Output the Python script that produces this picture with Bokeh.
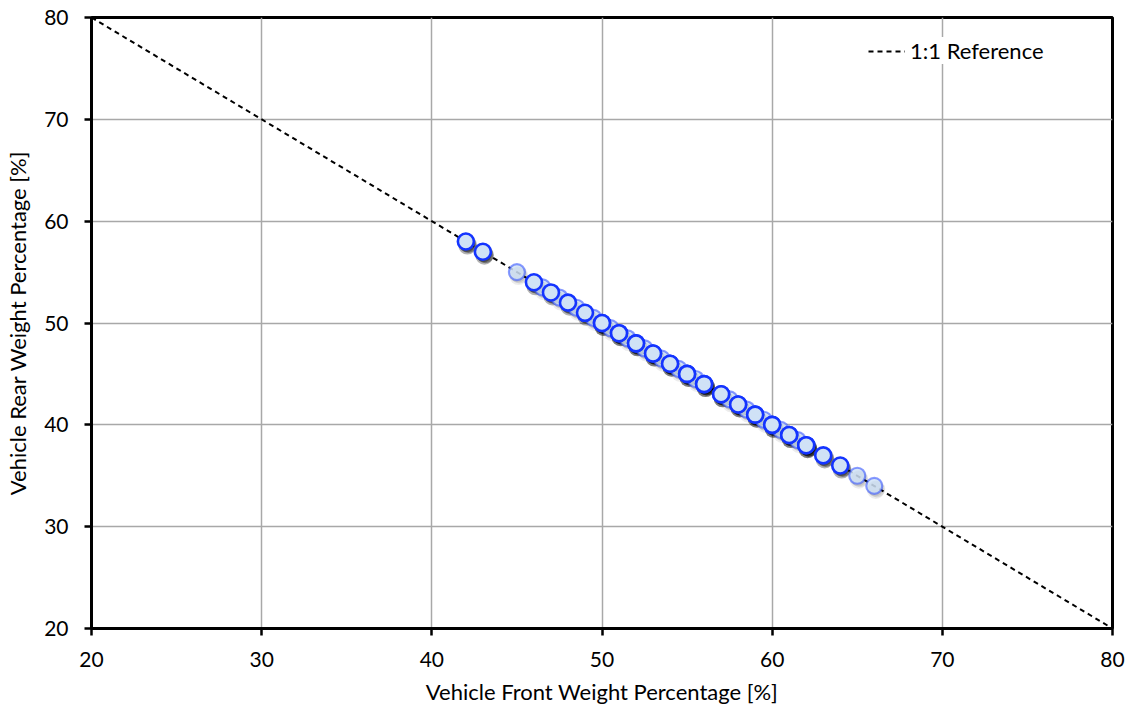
from bokeh.plotting import figure
from bokeh.models import Range1d, Legend, LegendItem
from bokeh.embed import file_html
from bokeh.resources import INLINE

# Data
front_solid = [42, 43, 46, 47, 48, 49, 50, 50, 51, 51, 52, 52, 53, 53, 54, 54, 55, 55, 56, 56,
               57, 57, 58, 58, 59, 59, 60, 60, 61, 61, 62, 62, 63, 64]
front_faint = [45, 46.5, 47.5, 48.5, 49.5, 50.5, 51.5, 52.5, 53.5, 54.5, 55.5, 57.5, 58.5,
               59.5, 60.5, 61.5, 65, 66]
ref_x = [20, 80]
ref_y = [80, 20]
x_ticks = [20, 30, 40, 50, 60, 70, 80]
y_ticks = [20, 30, 40, 50, 60, 70, 80]

rear_solid = [100 - f for f in front_solid]
rear_faint = [100 - f for f in front_faint]

FONT = "Lato"
FW, FH = 1021, 611

p = figure(width=1128, height=713, output_backend="svg", toolbar_location=None,
           x_range=Range1d(20, 80), y_range=Range1d(20, 80),
           frame_width=FW, frame_height=FH,
           min_border_left=91, min_border_top=17, min_border_right=16, min_border_bottom=85)
p.background_fill_color = "white"
p.border_fill_color = "white"
p.outline_line_color = "black"
p.outline_line_width = 3

for ax in (p.xaxis[0], p.yaxis[0]):
    ax.axis_line_width = 3
    ax.axis_line_color = "black"
    ax.major_tick_line_width = 2.5
    ax.major_tick_out = 7
    ax.major_tick_in = 0
    ax.minor_tick_line_color = None
    ax.major_label_text_font = FONT
    ax.major_label_text_font_size = "21px"
    ax.major_label_text_color = "black"
    ax.axis_label_text_font = FONT
    ax.axis_label_text_font_size = "22px"
    ax.axis_label_text_font_style = "normal"
    ax.axis_label_text_color = "black"

p.xaxis.ticker = x_ticks
p.yaxis.ticker = y_ticks
p.xaxis.major_label_standoff = 16
p.yaxis.major_label_standoff = 16
p.xaxis.axis_label = "Vehicle Front Weight Percentage [%]"
p.yaxis.axis_label = "Vehicle Rear Weight Percentage [%]"
p.xaxis.axis_label_standoff = 8
p.yaxis.axis_label_standoff = 10

p.grid.grid_line_color = "#a8a8a8"
p.grid.grid_line_width = 1.5

ref = p.line(ref_x, ref_y, line_color="black", line_width=2, line_dash="5 4")

# shadow offsets in data units (a few px right and down)
px_x = 60 / FW
px_y = 60 / FH

def shadow(xs, ys, alpha):
    for ox, oy, a, s in [(1.5, 4.0, 0.30, 18), (2.5, 3.0, 0.35, 17), (1.0, 2.5, 0.35, 16)]:
        p.scatter([x + ox * px_x for x in xs], [y - oy * px_y for y in ys], size=s,
                  fill_color="black", line_color=None, fill_alpha=a * alpha)

shadow(front_faint, rear_faint, 0.25)
shadow(front_solid, rear_solid, 1.0)

p.scatter(front_faint, rear_faint, size=16, fill_color="#d0e2f6", line_color="#3a58ff",
          line_width=2.2, fill_alpha=0.85, line_alpha=0.6)
p.scatter(front_solid, rear_solid, size=16, fill_color="#d0e2f6", line_color="#1434ff",
          line_width=2.6)

legend = Legend(items=[LegendItem(label="1:1 Reference", renderers=[ref])],
                location=(777, 564), border_line_color=None,
                background_fill_color="white", background_fill_alpha=1.0,
                label_text_font=FONT, label_text_font_size="22px",
                label_text_color="black",
                glyph_width=37, glyph_height=26, label_height=26,
                margin=0, padding=4, spacing=0, label_standoff=5)
p.add_layout(legend)

open("out.html", "w").write(file_html(p, INLINE))
